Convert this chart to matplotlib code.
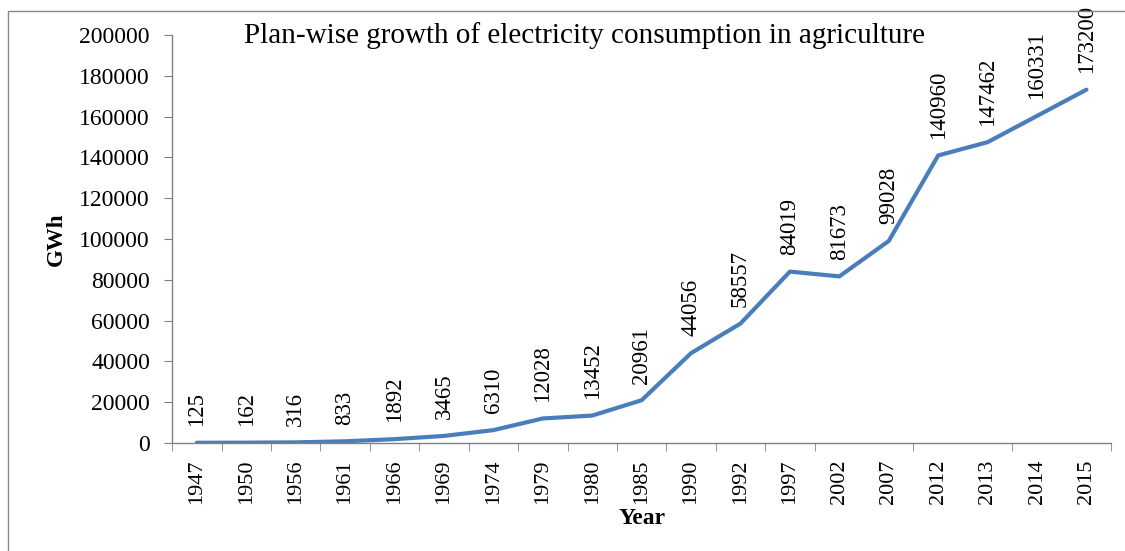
import numpy as np
import matplotlib
matplotlib.use('Agg')
import matplotlib.pyplot as plt
from matplotlib.patches import Rectangle
from matplotlib.ticker import FixedLocator

years = ['1947', '1950', '1956', '1961', '1966', '1969', '1974', '1979', '1980', '1985',
         '1990', '1992', '1997', '2002', '2007', '2012', '2013', '2014', '2015']
consumption = [125, 162, 316, 833, 1892, 3465, 6310, 12028, 13452, 20961,
               44056, 58557, 84019, 81673, 99028, 140960, 147462, 160331, 173200]
y_ticks = list(range(0, 200001, 20000))

plt.rcParams['font.family'] = ['Liberation Serif', 'DejaVu Serif']

fig = plt.figure(figsize=(11.25, 5.51), dpi=100)
ax = fig.add_axes([0.153, 0.196, 0.8347, 0.7405])

x = np.arange(len(years))
ax.plot(x, consumption, color='#4A7EBB', linewidth=3.0, solid_capstyle='round')

for xi, v in zip(x, consumption):
    ax.annotate(str(v), (xi, v), xytext=(0, 12), textcoords='offset points',
                rotation=90, ha='center', va='bottom', fontsize=16.5)

ax.set_xlim(-0.5, len(years) - 0.5)
ax.set_ylim(0, 200000)
ax.set_yticks(y_ticks)
ax.set_yticklabels([str(t) for t in y_ticks], fontsize=17)
ax.set_xticks(x)
ax.set_xticklabels(years, rotation=90, fontsize=16)

# category boundary ticks (a few are not drawn in the original)
boundaries = [b for b in np.arange(-0.5, len(years), 1) if b not in (13.5, 15.5, 17.5)]
ax.xaxis.set_minor_locator(FixedLocator(boundaries))
ax.tick_params(axis='x', which='major', length=0, pad=12)
ax.tick_params(axis='x', which='minor', length=6, color='#808080')
ax.tick_params(axis='y', length=6, color='#808080', pad=10)

for s in ['top', 'right']:
    ax.spines[s].set_visible(False)
for s in ['left', 'bottom']:
    ax.spines[s].set_color('#808080')
    ax.spines[s].set_linewidth(1.0)

ax.set_xlabel('Year', fontsize=17, fontweight='bold', labelpad=3)
ax.set_ylabel('GWh', fontsize=16.5, fontweight='bold', labelpad=9)

fig.text(0.52, 0.935, 'Plan-wise growth of electricity consumption in agriculture',
         ha='center', va='center', fontsize=21)

# outer chart border
fig.patches.append(Rectangle((8 / 1125, -0.05), 1.05, 1 - 11 / 551 + 0.05,
                             transform=fig.transFigure, fill=False,
                             edgecolor='#888888', linewidth=1.0))

fig.savefig('out.png', dpi=100)
